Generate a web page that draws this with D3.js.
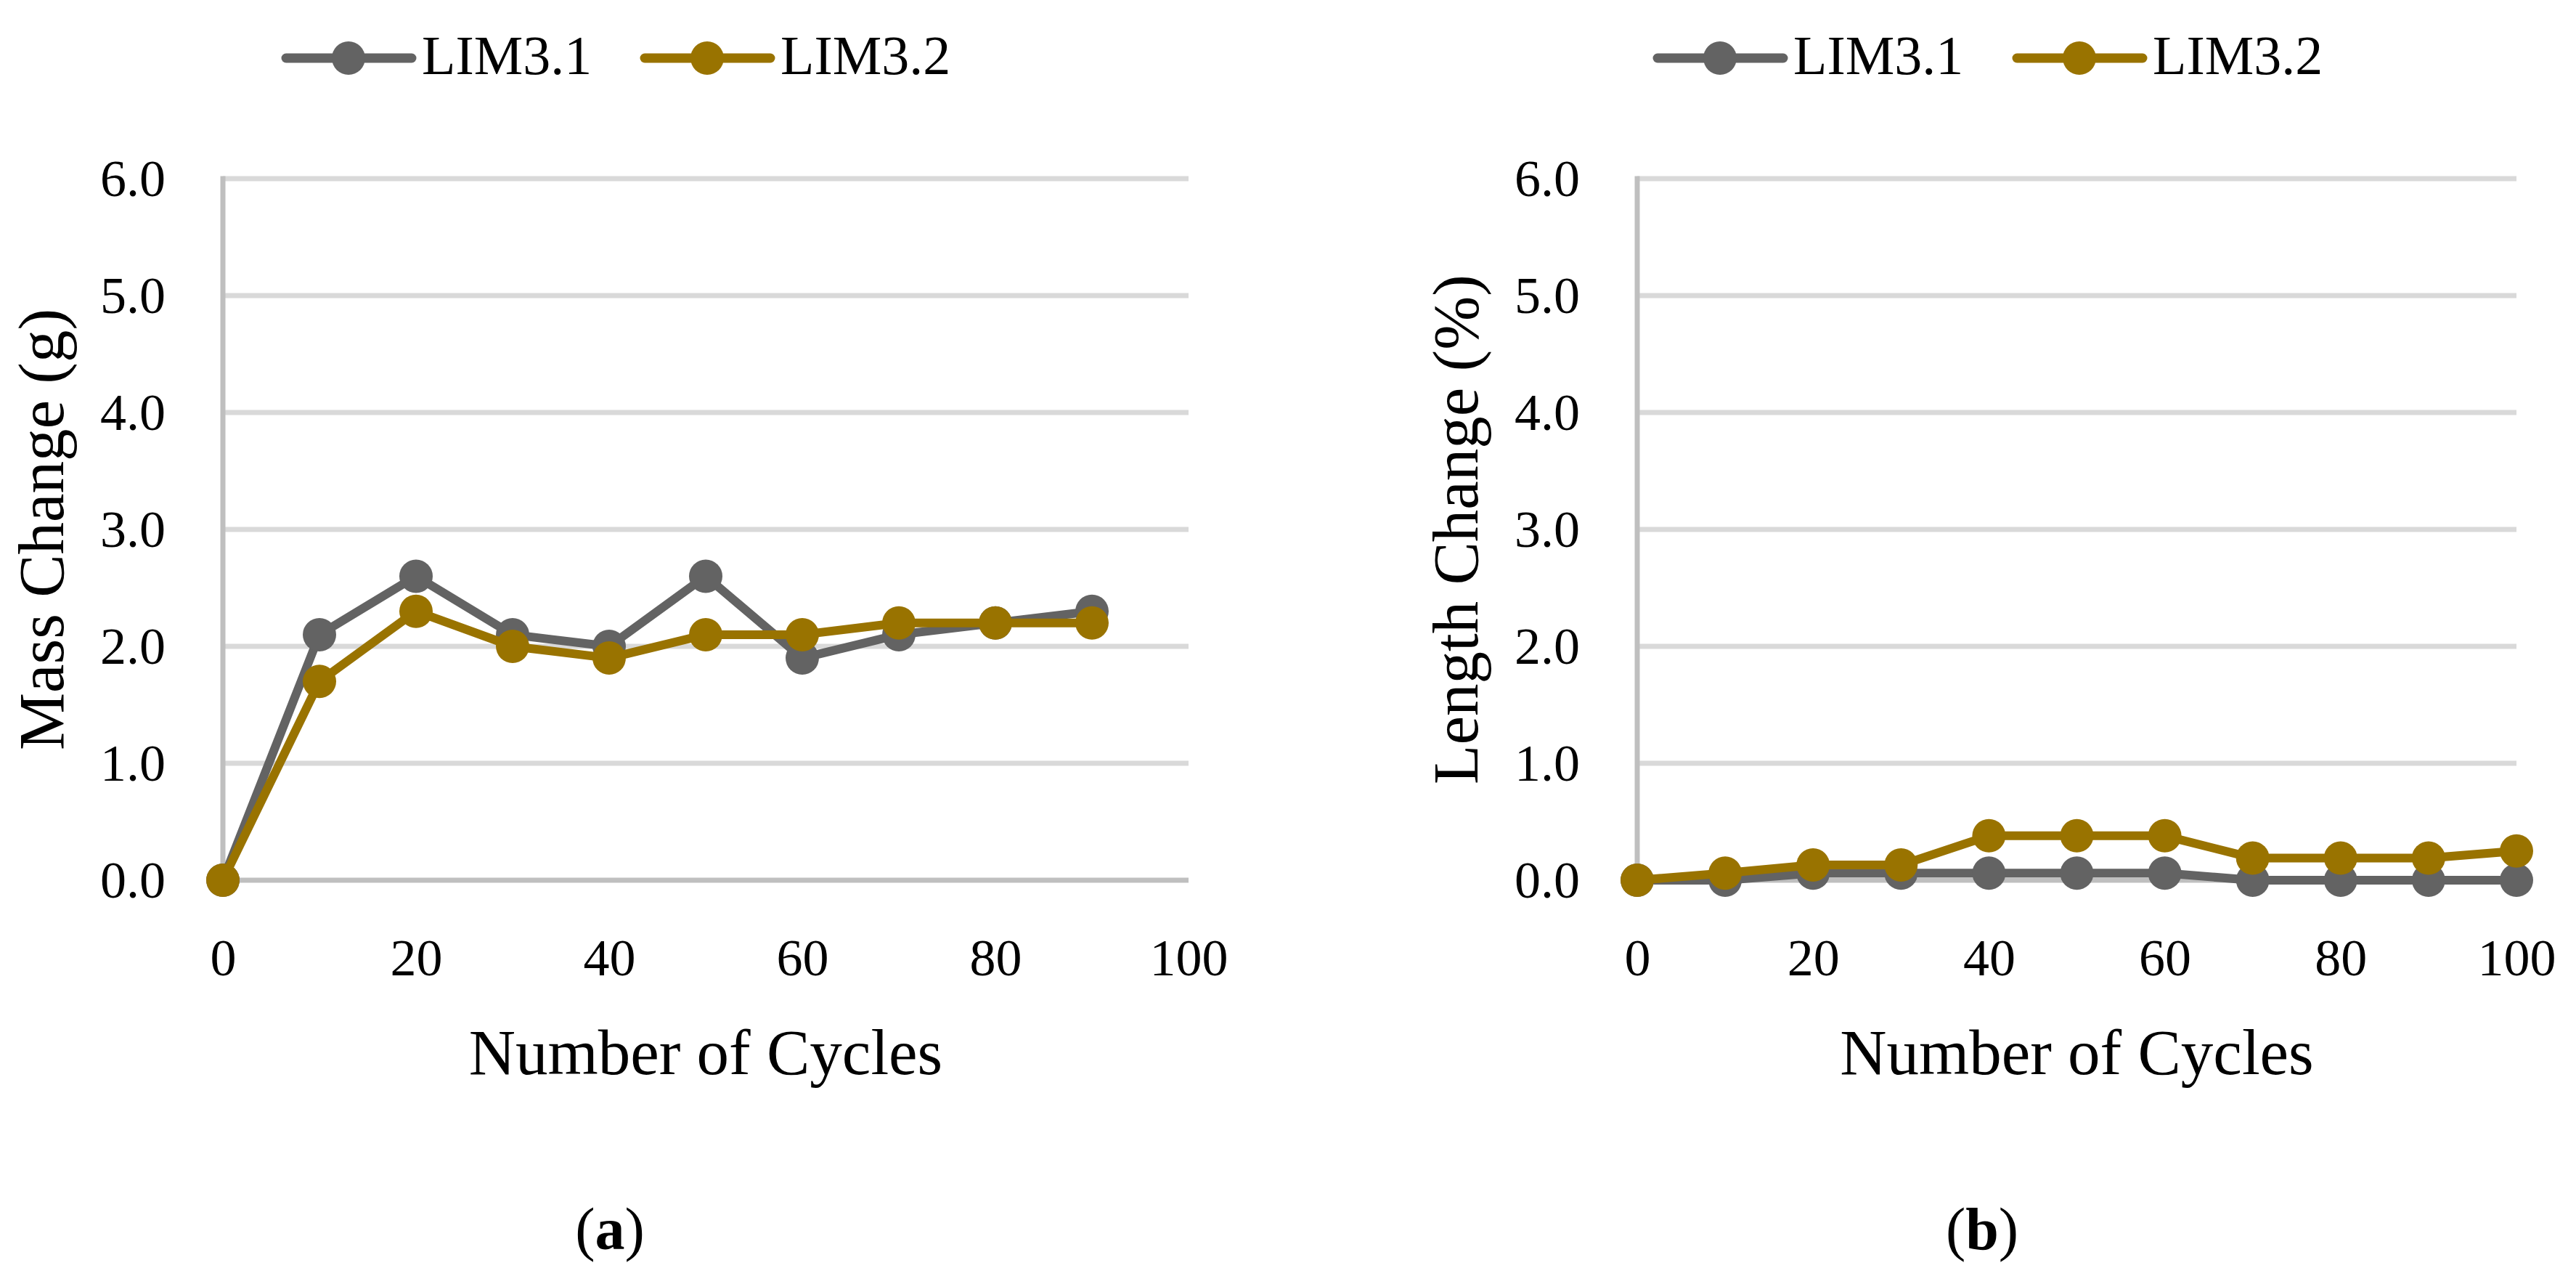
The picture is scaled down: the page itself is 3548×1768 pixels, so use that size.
<!DOCTYPE html>
<html>
<head>
<meta charset="utf-8">
<script src="https://cdn.jsdelivr.net/npm/d3@7"></script>
<style>
    body { margin: 0; background: #fff; }
    svg { display: block; font-family: "Liberation Serif", "Times New Roman", serif; }
</style>
</head>
<body>
<svg width="3548" height="1768"></svg>
<script>
// data
const seriesNames = ["LIM3.1", "LIM3.2"];
const massCycles = [0, 10, 20, 30, 40, 50, 60, 70, 80, 90];
const massLim31 = [0, 2.1, 2.6, 2.1, 2.0, 2.6, 1.9, 2.1, 2.2, 2.3];
const massLim32 = [0, 1.7, 2.3, 2.0, 1.9, 2.1, 2.1, 2.2, 2.2, 2.2];
const lengthCycles = [0, 10, 20, 30, 40, 50, 60, 70, 80, 90, 100];
const lengthLim31 = [0, 0, 0.06, 0.06, 0.06, 0.06, 0.06, 0, 0, 0, 0];
const lengthLim32 = [0, 0.06, 0.13, 0.13, 0.38, 0.38, 0.38, 0.19, 0.19, 0.19, 0.25];
const xTicks = [0, 20, 40, 60, 80, 100];
const yTicks = [0, 1, 2, 3, 4, 5, 6];

// colours
const colors = ["#636363", "#997300"];
const gridColor = "#d9d9d9";
const axisColor = "#bfbfbf";

const svg = d3.select("svg");

// one panel: legend, grid, axes, lines, caption
const drawPanel = (opt) => {
    const g = svg.append("g");

    const x = d3.scaleLinear().domain([0, 100]).range([opt.left, opt.right]);
    const y = d3.scaleLinear().domain([0, 6]).range([1212, 246]);

    // horizontal gridlines
    g.append("g")
        .selectAll("line")
        .data(yTicks)
        .join("line")
        .attr("x1", x(0))
        .attr("x2", x(100))
        .attr("y1", (d) => y(d))
        .attr("y2", (d) => y(d))
        .attr("stroke", (d) => (d === 0 ? axisColor : gridColor))
        .attr("stroke-width", 7);

    // vertical axis line
    g.append("line")
        .attr("x1", x(0))
        .attr("x2", x(0))
        .attr("y1", y(6) - 3.5)
        .attr("y2", y(0))
        .attr("stroke", axisColor)
        .attr("stroke-width", 7);

    // tick labels
    g.append("g")
        .attr("transform", `translate(${x(0)},0)`)
        .call(d3.axisLeft(y).tickValues(yTicks).tickFormat(d3.format(".1f")).tickSize(0).tickPadding(79))
        .call((a) => a.select(".domain").remove())
        .selectAll("text")
        .style("font-size", "72px")
        .style("font-family", "Liberation Serif, serif")
        .attr("fill", "#000");

    g.append("g")
        .attr("transform", `translate(0,${y(0)})`)
        .call(d3.axisBottom(x).tickValues(xTicks).tickSize(0).tickPadding(80))
        .call((a) => a.select(".domain").remove())
        .selectAll("text")
        .style("font-size", "72px")
        .style("font-family", "Liberation Serif, serif")
        .attr("fill", "#000");

    // axis titles
    g.append("text")
        .attr("x", (x(0) + x(100)) / 2)
        .attr("y", 1479)
        .attr("text-anchor", "middle")
        .style("font-size", "89px")
        .text("Number of Cycles");

    g.append("text")
        .attr("transform", `translate(${opt.titleX},${(y(0) + y(6)) / 2}) rotate(-90)`)
        .attr("text-anchor", "middle")
        .style("font-size", "89px")
        .text(opt.yTitle);

    // series lines + markers
    const line = d3.line().x((d) => x(d[0])).y((d) => y(d[1]));
    opt.series.forEach((values, k) => {
        const pts = opt.cycles.map((c, i) => [c, values[i]]);
        g.append("path")
            .datum(pts)
            .attr("d", line)
            .attr("fill", "none")
            .attr("stroke", colors[k])
            .attr("stroke-width", 12)
            .attr("stroke-linejoin", "round");
        g.append("g")
            .selectAll("circle")
            .data(pts)
            .join("circle")
            .attr("cx", (d) => x(d[0]))
            .attr("cy", (d) => y(d[1]))
            .attr("r", 23)
            .attr("fill", colors[k]);
    });

    // legend
    const leg = g.append("g")
        .selectAll("g")
        .data(seriesNames)
        .join("g")
        .attr("transform", (d, i) => `translate(${opt.legendX[i]},80)`);
    leg.append("line")
        .attr("x1", 0)
        .attr("x2", 173)
        .attr("stroke", (d, i) => colors[i])
        .attr("stroke-width", 13)
        .attr("stroke-linecap", "round");
    leg.append("circle")
        .attr("cx", 86)
        .attr("r", 23)
        .attr("fill", (d, i) => colors[i]);
    leg.append("text")
        .attr("x", 187)
        .attr("y", 22)
        .style("font-size", "76px")
        .text((d) => d);

    // caption
    const cap = g.append("text")
        .attr("x", opt.captionX)
        .attr("y", 1720)
        .attr("text-anchor", "middle")
        .style("font-size", "82px");
    cap.append("tspan").text("(");
    cap.append("tspan").attr("font-weight", "bold").text(opt.caption);
    cap.append("tspan").text(")");
};

drawPanel({
    left: 307,
    right: 1637,
    cycles: massCycles,
    series: [massLim31, massLim32],
    yTitle: "Mass Change (g)",
    titleX: 87,
    legendX: [394, 888],
    caption: "a",
    captionX: 840,
});

drawPanel({
    left: 2255,
    right: 3466,
    cycles: lengthCycles,
    series: [lengthLim31, lengthLim32],
    yTitle: "Length Change (%)",
    titleX: 2035,
    legendX: [2283, 2778],
    caption: "b",
    captionX: 2730,
});
</script>
</body>
</html>
